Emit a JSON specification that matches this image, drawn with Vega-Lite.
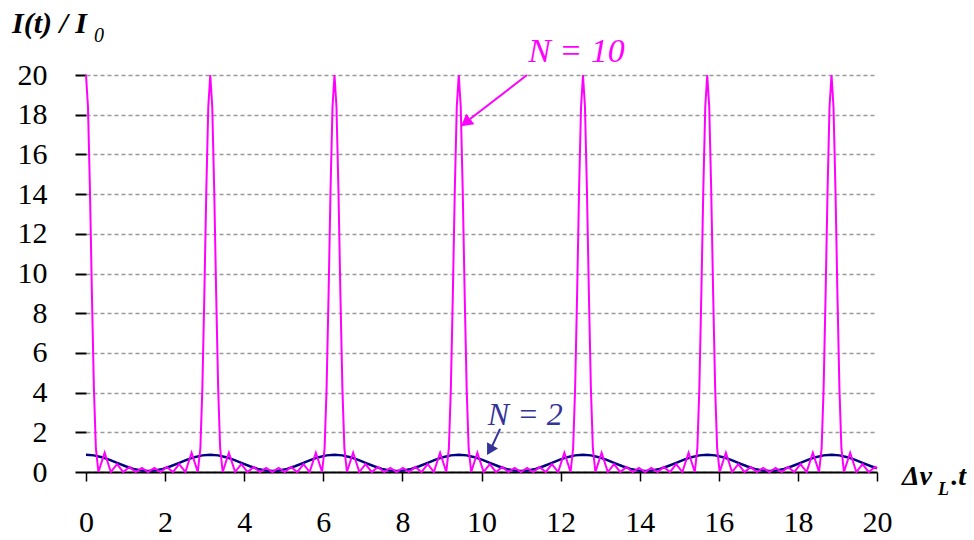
{
  "$schema": "https://vega.github.io/schema/vega-lite/v6.json",
  "width": 791,
  "height": 397,
  "autosize": {"type": "none"},
  "padding": {"left": 86, "top": 75, "right": 97, "bottom": 68},
  "background": "white",
  "config": {
    "view": {"stroke": null},
    "font": "Liberation Serif",
    "axisX": {"title": null, "grid": false, "tickCount": 10,
      "domain": true, "domainColor": "black", "domainWidth": 2,
      "ticks": true, "tickColor": "black", "tickSize": 9, "tickWidth": 1.5,
      "labelFont": "Liberation Serif", "labelFontSize": 30, "labelColor": "black",
      "labelPadding": 26, "labelFlush": false, "labelOverlap": false},
    "axisY": {"title": null, "domain": false, "tickCount": 10,
      "ticks": true, "tickColor": "black", "tickSize": 11, "tickWidth": 2,
      "labelFont": "Liberation Serif", "labelFontSize": 30, "labelColor": "black",
      "labelPadding": 28, "labelOverlap": false, "labelFlush": false,
      "grid": true, "gridColor": "#999999", "gridDash": [4, 3], "gridWidth": 1.3}
  },
  "datasets": {
    "n2": [
      {"x":0,"y":0.87},{"x":0.2,"y":0.838},{"x":0.4,"y":0.746},{"x":0.6,"y":0.609},{"x":0.8,"y":0.448},{"x":1.0,"y":0.289},{"x":1.2,"y":0.158},{"x":1.4,"y":0.074},{"x":1.571,"y":0.05},{"x":1.742,"y":0.074},{"x":1.942,"y":0.158},{"x":2.142,"y":0.289},{"x":2.342,"y":0.448},{"x":2.542,"y":0.609},{"x":2.742,"y":0.746},{"x":2.942,"y":0.838},
      {"x":3.142,"y":0.87},{"x":3.342,"y":0.838},{"x":3.542,"y":0.746},{"x":3.742,"y":0.609},{"x":3.942,"y":0.448},{"x":4.142,"y":0.289},{"x":4.342,"y":0.158},{"x":4.542,"y":0.074},{"x":4.713,"y":0.05},{"x":4.884,"y":0.074},{"x":5.084,"y":0.158},{"x":5.284,"y":0.289},{"x":5.484,"y":0.448},{"x":5.684,"y":0.609},{"x":5.884,"y":0.746},{"x":6.084,"y":0.838},
      {"x":6.283,"y":0.87},{"x":6.483,"y":0.838},{"x":6.683,"y":0.746},{"x":6.883,"y":0.609},{"x":7.083,"y":0.448},{"x":7.283,"y":0.289},{"x":7.483,"y":0.158},{"x":7.683,"y":0.074},{"x":7.854,"y":0.05},{"x":8.025,"y":0.074},{"x":8.225,"y":0.158},{"x":8.425,"y":0.289},{"x":8.625,"y":0.448},{"x":8.825,"y":0.609},{"x":9.025,"y":0.746},{"x":9.225,"y":0.838},
      {"x":9.425,"y":0.87},{"x":9.625,"y":0.838},{"x":9.825,"y":0.746},{"x":10.025,"y":0.609},{"x":10.225,"y":0.448},{"x":10.425,"y":0.289},{"x":10.625,"y":0.158},{"x":10.825,"y":0.074},{"x":10.996,"y":0.05},{"x":11.167,"y":0.074},{"x":11.367,"y":0.158},{"x":11.567,"y":0.289},{"x":11.767,"y":0.448},{"x":11.967,"y":0.609},{"x":12.167,"y":0.746},{"x":12.367,"y":0.838},
      {"x":12.566,"y":0.87},{"x":12.766,"y":0.838},{"x":12.966,"y":0.746},{"x":13.166,"y":0.609},{"x":13.366,"y":0.448},{"x":13.566,"y":0.289},{"x":13.766,"y":0.158},{"x":13.966,"y":0.074},{"x":14.137,"y":0.05},{"x":14.308,"y":0.074},{"x":14.508,"y":0.158},{"x":14.708,"y":0.289},{"x":14.908,"y":0.448},{"x":15.108,"y":0.609},{"x":15.308,"y":0.746},{"x":15.508,"y":0.838},
      {"x":15.708,"y":0.87},{"x":15.908,"y":0.838},{"x":16.108,"y":0.746},{"x":16.308,"y":0.609},{"x":16.508,"y":0.448},{"x":16.708,"y":0.289},{"x":16.908,"y":0.158},{"x":17.108,"y":0.074},{"x":17.279,"y":0.05},{"x":17.45,"y":0.074},{"x":17.65,"y":0.158},{"x":17.85,"y":0.289},{"x":18.05,"y":0.448},{"x":18.25,"y":0.609},{"x":18.45,"y":0.746},{"x":18.65,"y":0.838},
      {"x":18.85,"y":0.87},{"x":19.05,"y":0.838},{"x":19.25,"y":0.746},{"x":19.45,"y":0.609},{"x":19.65,"y":0.448},{"x":19.85,"y":0.289},{"x":20,"y":0.187}
    ],
    "n10": [
      {"x":0,"y":20},{"x":0.05,"y":18.4},{"x":0.1,"y":14.2},{"x":0.15,"y":8.9},{"x":0.2,"y":4.2},{"x":0.25,"y":1.2},{"x":0.314,"y":0},{"x":0.471,"y":0.97},{"x":0.628,"y":0},{"x":0.785,"y":0.4},{"x":0.942,"y":0},{"x":1.1,"y":0.25},{"x":1.257,"y":0},{"x":1.414,"y":0.2},{"x":1.571,"y":0},{"x":1.728,"y":0.2},{"x":1.885,"y":0},{"x":2.042,"y":0.25},{"x":2.199,"y":0},{"x":2.356,"y":0.4},{"x":2.513,"y":0},{"x":2.67,"y":0.97},{"x":2.827,"y":0},{"x":2.892,"y":1.2},{"x":2.942,"y":4.2},{"x":2.992,"y":8.9},{"x":3.042,"y":14.2},{"x":3.092,"y":18.4},
      {"x":3.142,"y":20},{"x":3.192,"y":18.4},{"x":3.242,"y":14.2},{"x":3.292,"y":8.9},{"x":3.342,"y":4.2},{"x":3.392,"y":1.2},{"x":3.456,"y":0},{"x":3.613,"y":0.97},{"x":3.77,"y":0},{"x":3.927,"y":0.4},{"x":4.084,"y":0},{"x":4.241,"y":0.25},{"x":4.398,"y":0},{"x":4.555,"y":0.2},{"x":4.712,"y":0},{"x":4.869,"y":0.2},{"x":5.027,"y":0},{"x":5.184,"y":0.25},{"x":5.341,"y":0},{"x":5.498,"y":0.4},{"x":5.655,"y":0},{"x":5.812,"y":0.97},{"x":5.969,"y":0},{"x":6.033,"y":1.2},{"x":6.083,"y":4.2},{"x":6.133,"y":8.9},{"x":6.183,"y":14.2},{"x":6.233,"y":18.4},
      {"x":6.283,"y":20},{"x":6.333,"y":18.4},{"x":6.383,"y":14.2},{"x":6.433,"y":8.9},{"x":6.483,"y":4.2},{"x":6.533,"y":1.2},{"x":6.597,"y":0},{"x":6.754,"y":0.97},{"x":6.911,"y":0},{"x":7.068,"y":0.4},{"x":7.225,"y":0},{"x":7.383,"y":0.25},{"x":7.54,"y":0},{"x":7.697,"y":0.2},{"x":7.854,"y":0},{"x":8.011,"y":0.2},{"x":8.168,"y":0},{"x":8.325,"y":0.25},{"x":8.482,"y":0},{"x":8.639,"y":0.4},{"x":8.796,"y":0},{"x":8.953,"y":0.97},{"x":9.11,"y":0},{"x":9.175,"y":1.2},{"x":9.225,"y":4.2},{"x":9.275,"y":8.9},{"x":9.325,"y":14.2},{"x":9.375,"y":18.4},
      {"x":9.425,"y":20},{"x":9.475,"y":18.4},{"x":9.525,"y":14.2},{"x":9.575,"y":8.9},{"x":9.625,"y":4.2},{"x":9.675,"y":1.2},{"x":9.739,"y":0},{"x":9.896,"y":0.97},{"x":10.053,"y":0},{"x":10.21,"y":0.4},{"x":10.367,"y":0},{"x":10.525,"y":0.25},{"x":10.682,"y":0},{"x":10.839,"y":0.2},{"x":10.996,"y":0},{"x":11.153,"y":0.2},{"x":11.31,"y":0},{"x":11.467,"y":0.25},{"x":11.624,"y":0},{"x":11.781,"y":0.4},{"x":11.938,"y":0},{"x":12.095,"y":0.97},{"x":12.252,"y":0},{"x":12.317,"y":1.2},{"x":12.367,"y":4.2},{"x":12.417,"y":8.9},{"x":12.467,"y":14.2},{"x":12.517,"y":18.4},
      {"x":12.566,"y":20},{"x":12.616,"y":18.4},{"x":12.666,"y":14.2},{"x":12.716,"y":8.9},{"x":12.766,"y":4.2},{"x":12.816,"y":1.2},{"x":12.88,"y":0},{"x":13.037,"y":0.97},{"x":13.194,"y":0},{"x":13.351,"y":0.4},{"x":13.508,"y":0},{"x":13.666,"y":0.25},{"x":13.823,"y":0},{"x":13.98,"y":0.2},{"x":14.137,"y":0},{"x":14.294,"y":0.2},{"x":14.451,"y":0},{"x":14.608,"y":0.25},{"x":14.765,"y":0},{"x":14.922,"y":0.4},{"x":15.079,"y":0},{"x":15.236,"y":0.97},{"x":15.393,"y":0},{"x":15.458,"y":1.2},{"x":15.508,"y":4.2},{"x":15.558,"y":8.9},{"x":15.608,"y":14.2},{"x":15.658,"y":18.4},
      {"x":15.708,"y":20},{"x":15.758,"y":18.4},{"x":15.808,"y":14.2},{"x":15.858,"y":8.9},{"x":15.908,"y":4.2},{"x":15.958,"y":1.2},{"x":16.022,"y":0},{"x":16.179,"y":0.97},{"x":16.336,"y":0},{"x":16.493,"y":0.4},{"x":16.65,"y":0},{"x":16.808,"y":0.25},{"x":16.965,"y":0},{"x":17.122,"y":0.2},{"x":17.279,"y":0},{"x":17.436,"y":0.2},{"x":17.593,"y":0},{"x":17.75,"y":0.25},{"x":17.907,"y":0},{"x":18.064,"y":0.4},{"x":18.221,"y":0},{"x":18.378,"y":0.97},{"x":18.535,"y":0},{"x":18.6,"y":1.2},{"x":18.65,"y":4.2},{"x":18.7,"y":8.9},{"x":18.75,"y":14.2},{"x":18.8,"y":18.4},
      {"x":18.85,"y":20},{"x":18.9,"y":18.4},{"x":18.95,"y":14.2},{"x":19.0,"y":8.9},{"x":19.05,"y":4.2},{"x":19.1,"y":1.2},{"x":19.164,"y":0},{"x":19.321,"y":0.97},{"x":19.478,"y":0},{"x":19.635,"y":0.4},{"x":19.792,"y":0},{"x":19.95,"y":0.25},{"x":20,"y":0.18}
    ],
    "one": [{}]
  },
  "layer": [
    {
      "data": {"name": "n2"},
      "mark": {"type": "line", "color": "#000080", "strokeWidth": 2.5},
      "encoding": {
        "x": {"field": "x", "type": "quantitative", "title": null,
          "scale": {"domain": [0, 20], "nice": false, "zero": false}},
        "y": {"field": "y", "type": "quantitative", "title": null,
          "scale": {"domain": [0, 20], "nice": false}}
      }
    },
    {
      "data": {"name": "n10"},
      "mark": {"type": "line", "color": "#ff00ff", "strokeWidth": 2},
      "encoding": {
        "x": {"field": "x", "type": "quantitative", "title": null},
        "y": {"field": "y", "type": "quantitative", "title": null}
      }
    },
    {
      "data": {"name": "one"},
      "mark": {"type": "text", "text": "I(t) / I", "fontSize": 30, "fontStyle": "italic", "fontWeight": "bold", "align": "left", "baseline": "alphabetic", "color": "black"},
      "encoding": {"x": {"datum": -1.87}, "y": {"datum": 22.1}}
    },
    {
      "data": {"name": "one"},
      "mark": {"type": "text", "text": "0", "fontSize": 20, "fontStyle": "italic", "align": "left", "baseline": "alphabetic", "color": "black"},
      "encoding": {"x": {"datum": 0.2}, "y": {"datum": 21.66}}
    },
    {
      "data": {"name": "one"},
      "mark": {"type": "text", "text": "Δν", "fontSize": 28, "fontStyle": "italic", "fontWeight": "bold", "align": "left", "baseline": "alphabetic", "color": "black"},
      "encoding": {"x": {"datum": 20.63}, "y": {"datum": -0.65}}
    },
    {
      "data": {"name": "one"},
      "mark": {"type": "text", "text": "L", "fontSize": 18, "fontStyle": "italic", "fontWeight": "bold", "align": "left", "baseline": "alphabetic", "color": "black"},
      "encoding": {"x": {"datum": 21.54}, "y": {"datum": -1.16}}
    },
    {
      "data": {"name": "one"},
      "mark": {"type": "text", "text": ".t", "fontSize": 28, "fontStyle": "italic", "fontWeight": "bold", "align": "left", "baseline": "alphabetic", "color": "black"},
      "encoding": {"x": {"datum": 21.88}, "y": {"datum": -0.65}}
    },
    {
      "data": {"name": "one"},
      "mark": {"type": "text", "text": "N = 10", "fontSize": 34, "fontStyle": "italic", "align": "left", "baseline": "alphabetic", "color": "#ff00ff"},
      "encoding": {"x": {"datum": 11.18}, "y": {"datum": 20.65}}
    },
    {
      "data": {"name": "one"},
      "mark": {"type": "text", "text": "N = 2", "fontSize": 32, "fontStyle": "italic", "align": "left", "baseline": "alphabetic", "color": "#333399"},
      "encoding": {"x": {"datum": 10.16}, "y": {"datum": 2.37}}
    },
    {
      "data": {"name": "one"},
      "mark": {"type": "rule", "color": "#ff00ff", "strokeWidth": 2},
      "encoding": {"x": {"datum": 11.15}, "y": {"datum": 20.0}, "x2": {"datum": 9.71}, "y2": {"datum": 17.78}}
    },
    {
      "data": {"name": "one"},
      "mark": {"type": "point", "shape": "triangle-up", "filled": true, "size": 180, "angle": 232, "color": "#ff00ff", "opacity": 1},
      "encoding": {"x": {"datum": 9.6}, "y": {"datum": 17.6}}
    },
    {
      "data": {"name": "one"},
      "mark": {"type": "rule", "color": "#333399", "strokeWidth": 2},
      "encoding": {"x": {"datum": 10.47}, "y": {"datum": 2.17}, "x2": {"datum": 10.27}, "y2": {"datum": 1.31}}
    },
    {
      "data": {"name": "one"},
      "mark": {"type": "point", "shape": "triangle-up", "filled": true, "size": 160, "angle": 210, "color": "#333399", "opacity": 1},
      "encoding": {"x": {"datum": 10.21}, "y": {"datum": 1.1}}
    }
  ]
}
